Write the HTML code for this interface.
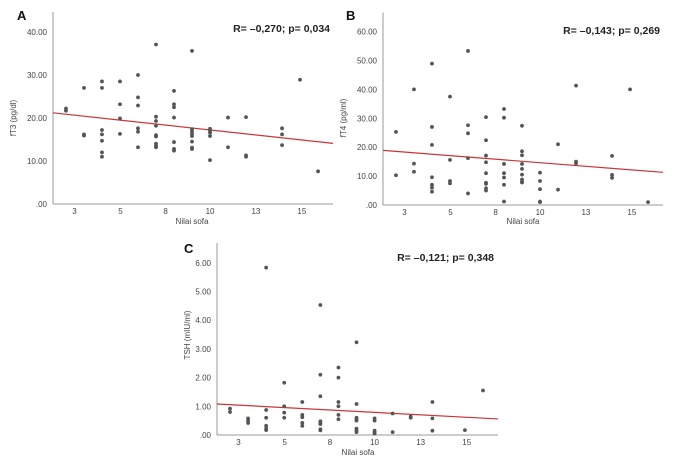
<!DOCTYPE html>
<html><head><meta charset="utf-8">
<style>
html,body{margin:0;padding:0;background:#fff;}
svg{display:block;font-family:"Liberation Sans",sans-serif;}
</style></head>
<body>
<svg id="fig" width="673" height="466" viewBox="0 0 673 466" xmlns="http://www.w3.org/2000/svg"></svg>
<script>
// Shared x-axis data
const xTickValues = [2.47, 5.03, 7.53, 10, 12.55, 15.1];
const xTickLabels = ['3', '5', '8', '10', '13', '15'];

// Panel A: fT3
const aX = [2,2, 3,3,3, 4,4,4,4,4,4,4, 5,5,5,5, 6,6,6,6,6,6, 7,7,7,7,7,7,7,7,7, 8,8,8,8,8,8,8, 9,9,9,9,9,9,9,9, 10,10,10,10,10, 11,11, 12,12,12, 14,14,14, 15, 16];
const aY = [22.2,21.7, 27,16.2,15.9, 28.5,27,17.2,16.2,14.7,12,11, 28.5,23.2,19.9,16.3, 30,24.8,22.9,17.6,16.8,13.2, 37.1,20.3,19.3,18.2,16,15.7,14,13.5,13.2, 26.3,23.2,22.5,20.1,14.4,12.8,12.4, 35.6,17.4,16.9,16.3,15.8,14.5,13.1,12.8, 17.5,17,16.6,15.8,10.2, 20.1,13.2, 20.2,11.3,11, 17.6,16.2,13.7, 28.9, 7.6];
const aYTicks = [0,10,20,30,40];
const aYTickLabels = ['.00','10.00','20.00','30.00','40.00'];
const aFit = [21.2, 14.1];

// Panel B: fT4
const bX = [2,2, 3,3,3, 4,4,4,4,4,4,4, 5,5,5,5, 6,6,6,6,6, 7,7,7,7,7,7,7,7,7, 8,8,8,8,8,8,8, 9,9,9,9,9,9,9,9,9, 10,10,10,10,10, 11,11, 12,12,12, 14,14,14, 15, 16];
const bY = [25.3,10.3, 40,14.3,11.5, 48.9,27,20.8,9.6,7,6,4.6, 37.5,15.6,8.3,7.5, 53.3,27.6,24.8,16.2,4, 30.4,22.4,17.1,14.8,11,7.7,7.3,5.8,5, 33.2,30.2,14.2,11,9.5,7,1.2, 27.4,18.6,17.2,14.2,12.5,10.5,8.8,8,7.8, 11.2,8.3,5.5,1.2,1, 21,5.3, 41.3,15,14.4, 17,10.4,9.4, 40, 1];
const bYTicks = [0,10,20,30,40,50,60];
const bYTickLabels = ['.00','10.00','20.00','30.00','40.00','50.00','60.00'];
const bFit = [18.9, 11.3];

// Panel C: TSH
const cX = [2,2, 3,3,3, 4,4,4,4,4,4, 5,5,5,5, 6,6,6,6,6, 7,7,7,7,7,7,7,7, 8,8,8,8,8,8, 9,9,9,9,9,9,9,9, 10,10,10,10,10, 11,11, 12,12, 13.2,13.2,13.2, 15, 16];
const cY = [0.92,0.8, 0.58,0.5,0.42, 5.83,0.87,0.6,0.32,0.22,0.17, 1.82,1.0,0.78,0.6, 1.15,0.7,0.62,0.42,0.32, 4.53,2.1,1.35,0.48,0.42,0.38,0.2,0.16, 2.35,2.0,1.15,1.0,0.7,0.55, 3.23,1.08,0.6,0.55,0.5,0.22,0.15,0.1, 0.58,0.5,0.15,0.1,0.05, 0.75,0.1, 0.65,0.6, 1.15,0.58,0.15, 0.17, 1.55];
const cYTicks = [0,1,2,3,4,5,6];
const cYTickLabels = ['.00','1.00','2.00','3.00','4.00','5.00','6.00'];
const cFit = [1.08, 0.56];

const NS = 'http://www.w3.org/2000/svg';
const svg = document.getElementById('fig');
function mk(tag, attrs, parent, text){
  const e = document.createElementNS(NS, tag);
  for (const k in attrs) e.setAttribute(k, attrs[k]);
  if (text !== undefined) e.textContent = text;
  (parent || svg).appendChild(e);
  return e;
}
const XMIN = 1.28, XMAX = 16.83;

function panel(cfg){
  const g = mk('g', {});
  
  
  const xs = v => cfg.left + (v - XMIN) / (XMAX - XMIN) * cfg.w;
  const ys = v => cfg.bottom - (v / cfg.ymax) * cfg.h;
  const ya = mk('line', {x1:cfg.left, y1:cfg.bottom - cfg.h, x2:cfg.left, y2:cfg.bottom, stroke:'#999', 'stroke-width':1}, g);
  
  
  const xa = mk('line', {x1:cfg.left, y1:cfg.bottom, x2:cfg.left + cfg.w, y2:cfg.bottom, stroke:'#999', 'stroke-width':1}, g);
  
  
  cfg.yTicks.forEach((t, i) => {
    const tl = mk('text', {x:cfg.left - 6, y:ys(t) + 3, 'font-size':8, fill:'#444', 'text-anchor':'end'}, g, cfg.yLabels[i]);
    
    
  });
  xTickValues.forEach((t, i) => {
    const tl = mk('text', {x:xs(t), y:cfg.bottom + 10, 'font-size':8, fill:'#444', 'text-anchor':'middle'}, g, xTickLabels[i]);
    
    
  });
  const fl = mk('line', {x1:xs(XMIN), y1:ys(cfg.fit[0]), x2:xs(XMAX), y2:ys(cfg.fit[1]), stroke:'#c8373a', 'stroke-width':1.2}, g);
  
  
  cfg.xv.forEach((x, i) => {
    const p = mk('circle', {cx:xs(x), cy:ys(cfg.yv[i]), r:1.9, fill:'#555'}, g);
    
    
  });
  const L = mk('text', {x:cfg.letter[0], y:cfg.letter[1], 'font-size':13, 'font-weight':'bold', fill:'#111'}, g, cfg.letterText);
  
  
  const S = mk('text', {x:cfg.stat[0], y:cfg.stat[1], 'font-size':10.5, 'font-weight':'bold', fill:'#222', 'text-anchor':'end'}, g, cfg.statText);
  
  
  const yt = mk('text', {x:0, y:0, 'font-size':8, fill:'#444', 'text-anchor':'middle', transform:'translate(' + cfg.ytitle[0] + ',' + cfg.ytitle[1] + ') rotate(-90)'}, g, cfg.ytitleText);
  
  
  const xt = mk('text', {x:cfg.xtitle[0], y:cfg.xtitle[1], 'font-size':8, fill:'#444', 'text-anchor':'middle'}, g, 'Nilai sofa');
  
  
}

panel({name:'panel-a-ft3', left:53, w:280, bottom:204, h:192, ymax:44.65, xv:aX, yv:aY, yTicks:aYTicks, yLabels:aYTickLabels, fit:aFit,
  letter:[17,20], letterText:'A', stat:[330,32], statText:'R= \u20130,270; p= 0,034', ytitle:[16,118], ytitleText:'fT3 (pg/dl)', xtitle:[192,224]});
panel({name:'panel-b-ft4', left:383, w:280, bottom:205, h:192.5, ymax:66.6, xv:bX, yv:bY, yTicks:bYTicks, yLabels:bYTickLabels, fit:bFit,
  letter:[346,20], letterText:'B', stat:[660,34], statText:'R= \u20130,143; p= 0,269', ytitle:[346,118], ytitleText:'fT4 (pg/ml)', xtitle:[523,224]});
panel({name:'panel-c-tsh', left:217, w:281, bottom:435, h:192, ymax:6.69, xv:cX, yv:cY, yTicks:cYTicks, yLabels:cYTickLabels, fit:cFit,
  letter:[184,253], letterText:'C', stat:[494,261], statText:'R= \u20130,121; p= 0,348', ytitle:[190,335], ytitleText:'TSH (mIU/ml)', xtitle:[358,455]});
</script>
</body></html>
